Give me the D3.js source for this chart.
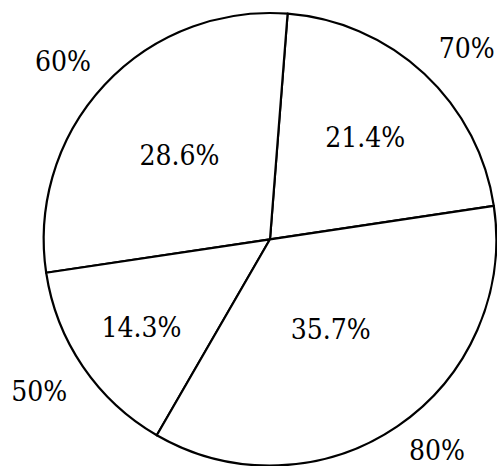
<!DOCTYPE html>
<html>
<head>
<meta charset="utf-8">
<script src="https://cdn.jsdelivr.net/npm/d3@7"></script>
<style>
  html, body { margin: 0; padding: 0; background: #fff; }
  svg { display: block; }
</style>
</head>
<body>
<svg id="chart" width="497" height="466"></svg>
<script>
// Slice labels (outside) and their shares in percent (inside)
const categories = ["70%", "60%", "50%", "80%"];
const shares = [21.4, 28.6, 14.3, 35.7];

const width = 497, height = 466;
const cx = 270, cy = 239.3, radius = 226.3;
const fontSize = 28;
const fontFamily = "'DejaVu Serif Condensed', 'DejaVu Serif', serif";
const startDeg = 8.5; // first slice edge, measured counter-clockwise from east

const svg = d3.select("#chart");
const g = svg.append("g").attr("transform", `translate(${cx},${cy})`);

// d3 angles run clockwise from 12 o'clock; sweep counter-clockwise instead
const a0 = (90 - startDeg) * Math.PI / 180;
const pie = d3.pie().sort(null).value(d => d.v)
  .startAngle(a0).endAngle(a0 - 2 * Math.PI);

const data = categories.map((c, i) => ({ label: c, v: shares[i] }));
const arcs = pie(data);
const arc = d3.arc().innerRadius(0).outerRadius(radius);

g.selectAll("path.slice")
  .data(arcs)
  .join("path")
  .attr("class", "slice")
  .attr("d", arc)
  .attr("fill", "#fff")
  .attr("stroke", "#000")
  .attr("stroke-width", 2.2)
  .attr("stroke-linejoin", "round");

const fmt = d3.format(".1f");

// Inner value labels: wider slices pull the number closer to the centre
g.selectAll("text.value")
  .data(arcs)
  .join("text")
  .attr("class", "value")
  .attr("font-family", fontFamily)
  .attr("font-stretch", "condensed")
  .attr("font-size", fontSize)
  .attr("fill", "#000")
  .attr("text-anchor", "middle")
  .each(function (d) {
    const spanDeg = Math.abs(d.endAngle - d.startAngle) * 180 / Math.PI;
    const pos = 0.8 - 0.3 * Math.max(spanDeg - 10, 0) / 110;
    const mid = (d.startAngle + d.endAngle) / 2;
    const x = pos * radius * Math.sin(mid);
    const y = -pos * radius * Math.cos(mid);
    d3.select(this).attr("x", x).attr("y", y + 0.36 * fontSize);
  })
  .text(d => fmt(d.data.v) + "%");

// Outer category labels, anchored away from the circle
g.selectAll("text.cat")
  .data(arcs)
  .join("text")
  .attr("class", "cat")
  .attr("font-family", fontFamily)
  .attr("font-stretch", "condensed")
  .attr("font-size", fontSize)
  .attr("fill", "#000")
  .each(function (d) {
    const mid = (d.startAngle + d.endAngle) / 2;
    const dist = 1.1 * radius;
    const x = dist * Math.sin(mid);
    const y = -dist * Math.cos(mid);
    const right = Math.sin(mid) > 0;
    const upper = Math.cos(mid) > 0;
    d3.select(this)
      .attr("text-anchor", right ? "start" : "end")
      .attr("x", right ? x - 1 : x + 3)
      .attr("y", upper ? y + 1 : Math.min(y + 0.78 * fontSize, height - cy - 6));
  })
  .text(d => d.data.label);
</script>
</body>
</html>
